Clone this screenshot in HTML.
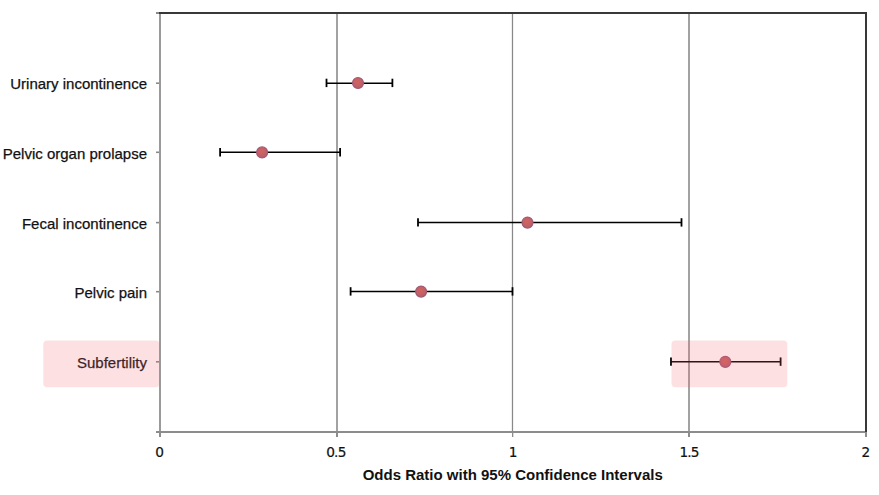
<!DOCTYPE html>
<html>
<head>
<meta charset="utf-8">
<style>
html,body{margin:0;padding:0;background:#fff;}
body{width:879px;height:495px;overflow:hidden;}
svg{display:block;}
text{font-family:"Liberation Sans",Arial,sans-serif;}
text.n{font-family:"DejaVu Sans",sans-serif;}
</style>
</head>
<body>
<svg width="879" height="495" viewBox="0 0 879 495">
<defs>
<radialGradient id="mk" cx="45%" cy="40%" r="60%">
<stop offset="0" stop-color="#d2635f"/>
<stop offset="0.6" stop-color="#c36066"/>
<stop offset="1" stop-color="#b25d70"/>
</radialGradient>
</defs>
<rect x="0" y="0" width="879" height="495" fill="#fff"/>
<!-- gridlines -->
<rect x="336" y="13" width="2" height="419" fill="#a2a2a2"/>
<rect x="512" y="13" width="1" height="419" fill="#888"/>
<rect x="511" y="13" width="1" height="419" fill="#eee"/>
<rect x="513" y="13" width="1" height="419" fill="#f2f2f2"/>
<rect x="688" y="13" width="2" height="419" fill="#a2a2a2"/>
<!-- left axis -->
<rect x="159" y="13" width="2" height="419" fill="#9a9a9a"/>
<!-- left ticks -->
<g fill="#8a8a8a">
<rect x="156" y="12" width="3" height="2"/>
<rect x="156" y="82.4" width="3" height="1.6"/>
<rect x="156" y="151.5" width="3" height="1.6"/>
<rect x="156" y="221.8" width="3" height="1.6"/>
<rect x="156" y="290.9" width="3" height="1.6"/>
<rect x="156" y="361.0" width="3" height="1.6"/>
</g>
<!-- bottom axis -->
<rect x="156" y="431" width="711" height="2" fill="#8c8c8c"/>
<g fill="#8c8c8c">
<rect x="159" y="433" width="2" height="4"/>
<rect x="336" y="433" width="2" height="4"/>
<rect x="512" y="433" width="1.3" height="4"/>
<rect x="688" y="433" width="2" height="4"/>
<rect x="865" y="433" width="2" height="4"/>
</g>
<!-- top & right border -->
<rect x="159" y="12" width="708" height="2" fill="#383838"/>
<rect x="865" y="12" width="2" height="420" fill="#383838"/>
<!-- error bars -->
<g stroke="#000" fill="none">
<line x1="326.5" y1="83.3" x2="392.4" y2="83.3" stroke-width="1.5"/>
<line x1="326.5" y1="78.70" x2="326.5" y2="87.10" stroke-width="1.8"/>
<line x1="392.4" y1="78.70" x2="392.4" y2="87.10" stroke-width="1.8"/>
<line x1="220.1" y1="152.2" x2="340.1" y2="152.2" stroke-width="1.5"/>
<line x1="220.1" y1="148.10" x2="220.1" y2="156.50" stroke-width="1.8"/>
<line x1="340.1" y1="148.10" x2="340.1" y2="156.50" stroke-width="1.8"/>
<line x1="418.0" y1="222.4" x2="681.5" y2="222.4" stroke-width="1.5"/>
<line x1="418.0" y1="218.20" x2="418.0" y2="226.60" stroke-width="1.8"/>
<line x1="681.5" y1="218.20" x2="681.5" y2="226.60" stroke-width="1.8"/>
<line x1="350.6" y1="291.4" x2="512.5" y2="291.4" stroke-width="1.5"/>
<line x1="350.6" y1="287.20" x2="350.6" y2="295.60" stroke-width="1.8"/>
<line x1="512.5" y1="287.20" x2="512.5" y2="295.60" stroke-width="1.8"/>
<line x1="671.0" y1="361.7" x2="780.6" y2="361.7" stroke-width="1.5"/>
<line x1="671.0" y1="357.45" x2="671.0" y2="365.85" stroke-width="1.8"/>
<line x1="780.6" y1="357.45" x2="780.6" y2="365.85" stroke-width="1.8"/>
</g>
<!-- markers -->
<g fill="url(#mk)" stroke="#a05875" stroke-width="1.1">
<circle cx="358.0" cy="83.0" r="5.5"/>
<circle cx="262.1" cy="152.4" r="5.5"/>
<circle cx="527.5" cy="222.6" r="5.5"/>
<circle cx="421.1" cy="291.6" r="5.5"/>
<circle cx="725.3" cy="361.85" r="5.5"/>
</g>
<!-- category labels -->
<g font-size="15" fill="#111" stroke="#111" stroke-width="0.25" text-anchor="end">
<text transform="translate(147,89.0) scale(1,1.0)">Urinary incontinence</text>
<text transform="translate(147,158.7) scale(1,1.0)">Pelvic organ prolapse</text>
<text transform="translate(147,228.6) scale(1,1.0)">Fecal incontinence</text>
<text transform="translate(147,298.2) scale(1,1.0)">Pelvic pain</text>
<text transform="translate(147,367.8) scale(1,1.0)">Subfertility</text>
</g>
<!-- x tick labels -->
<g font-family="DejaVu Sans" font-size="13.7" fill="#111" text-anchor="middle" style="font-family:'DejaVu Sans',sans-serif">
<text class="n" x="159.7" y="457" stroke="#111" stroke-width="0.2">0</text>
<text class="n" x="335.9" y="457" letter-spacing="-0.8" stroke="#111" stroke-width="0.2">0.5</text>
<text class="n" x="513.1" y="457" stroke="#111" stroke-width="0.2">1</text>
<text class="n" x="689.1" y="457" letter-spacing="-0.8" stroke="#111" stroke-width="0.2">1.5</text>
<text class="n" x="865.9" y="457" stroke="#111" stroke-width="0.2">2</text>
</g>
<text transform="translate(512.7,480) scale(1,1)" font-size="15" font-weight="bold" text-anchor="middle" fill="#111">Odds Ratio with 95% Confidence Intervals</text>
<!-- highlight boxes -->
<rect x="43.3" y="340.6" width="116.2" height="46.6" rx="4" ry="4" fill="rgb(240,100,110)" fill-opacity="0.2"/>
<rect x="671.5" y="340.6" width="115.8" height="46.6" rx="4" ry="4" fill="rgb(240,100,110)" fill-opacity="0.2"/>
</svg>
</body>
</html>
